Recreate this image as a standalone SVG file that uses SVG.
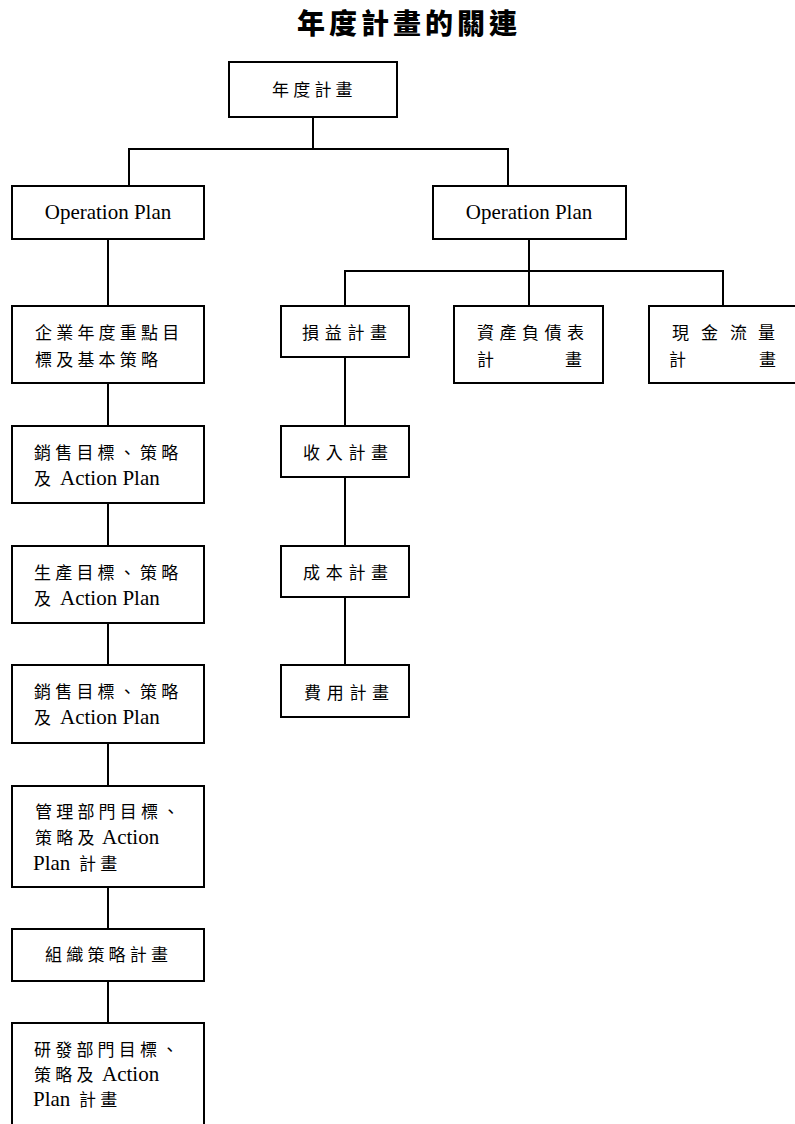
<svg xmlns="http://www.w3.org/2000/svg" width="795" height="1124" viewBox="0 0 795 1124">
<style>
.box{fill:#fff;stroke:#000;stroke-width:2}
.ln{fill:none;stroke:#000;stroke-width:2}
.cj{font-family:"Noto Sans CJK TC","Noto Sans CJK SC",sans-serif;font-size:17px;letter-spacing:4.2px;fill:#000}
.lat{font-family:"Liberation Serif","Noto Sans CJK TC",serif;font-size:21px;letter-spacing:0;fill:#000}
.title{font-family:"Noto Sans CJK TC",sans-serif;font-size:28px;font-weight:900;letter-spacing:4px;fill:#000}
</style>
<rect width="795" height="1124" fill="#fff"/>
<text class="title" x="297" y="34">年度計畫的關連</text>

<g id="connectors">
<path class="ln" d="M313,117V149M129,186V149H508V186"/>
<path class="ln" d="M108,239V306M108,383V426M108,503V546M108,623V665M108,743V786M108,887V929M108,981V1023"/>
<path class="ln" d="M529,239V306M345,306V271H723V306"/>
<path class="ln" d="M345,357V426M345,477V546M345,597V665"/>
</g>

<g id="n-root"><rect class="box" x="229" y="62" width="168" height="55"/><text class="cj" x="272" y="96">年度計畫</text></g>
<g id="n-op-left"><rect class="box" x="12" y="186" width="192" height="53"/><text class="lat" x="108" y="219" text-anchor="middle">Operation Plan</text></g>
<g id="n-op-right"><rect class="box" x="433" y="186" width="193" height="53"/><text class="lat" x="529" y="219" text-anchor="middle">Operation Plan</text></g>

<g id="n-goal"><rect class="box" x="12" y="306" width="192" height="77"/>
<text class="cj" x="35" y="339">企業年度重點目</text><text class="cj" x="35" y="366">標及基本策略</text></g>
<g id="n-sales1"><rect class="box" x="12" y="426" width="192" height="77"/>
<text class="cj" x="34" y="459">銷售目標、策略</text><text x="34" y="485"><tspan class="cj">及</tspan><tspan class="lat" x="60">Action Plan</tspan></text></g>
<g id="n-prod"><rect class="box" x="12" y="546" width="192" height="77"/>
<text class="cj" x="34" y="579">生產目標、策略</text><text x="34" y="605"><tspan class="cj">及</tspan><tspan class="lat" x="60">Action Plan</tspan></text></g>
<g id="n-sales2"><rect class="box" x="12" y="665" width="192" height="78"/>
<text class="cj" x="34" y="698">銷售目標、策略</text><text x="34" y="724"><tspan class="cj">及</tspan><tspan class="lat" x="60">Action Plan</tspan></text></g>
<g id="n-mgmt"><rect class="box" x="12" y="786" width="192" height="101"/>
<text class="cj" x="35" y="818">管理部門目標、</text>
<text x="35" y="844"><tspan class="cj">策略及</tspan><tspan class="lat" x="102">Action</tspan></text>
<text x="33" y="870"><tspan class="lat">Plan</tspan><tspan class="cj" x="79">計畫</tspan></text></g>
<g id="n-org"><rect class="box" x="12" y="929" width="192" height="52"/><text class="cj" x="45" y="961">組織策略計畫</text></g>
<g id="n-rd"><rect class="box" x="12" y="1023" width="192" height="104"/>
<text class="cj" x="34" y="1056">研發部門目標、</text>
<text x="34" y="1081"><tspan class="cj">策略及</tspan><tspan class="lat" x="102">Action</tspan></text>
<text x="33" y="1106"><tspan class="lat">Plan</tspan><tspan class="cj" x="79">計畫</tspan></text></g>

<g id="n-pl"><rect class="box" x="281" y="306" width="128" height="51"/><text class="cj" x="302" y="339" style="letter-spacing:5.7px">損益計畫</text></g>
<g id="n-rev"><rect class="box" x="281" y="426" width="128" height="51"/><text class="cj" x="303" y="459" style="letter-spacing:5.7px">收入計畫</text></g>
<g id="n-cost"><rect class="box" x="281" y="546" width="128" height="51"/><text class="cj" x="303" y="579" style="letter-spacing:5.7px">成本計畫</text></g>
<g id="n-exp"><rect class="box" x="281" y="665" width="128" height="52"/><text class="cj" x="304" y="699" style="letter-spacing:5.7px">費用計畫</text></g>

<g id="n-bs"><rect class="box" x="454" y="306" width="149" height="77"/>
<text class="cj" x="477" y="339" style="letter-spacing:5.5px">資產負債表</text>
<text class="cj" y="366"><tspan x="477">計</tspan><tspan x="565">畫</tspan></text></g>
<g id="n-cf"><rect class="box" x="649" y="306" width="148" height="77"/>
<text class="cj" y="339"><tspan x="672">現</tspan><tspan x="701">金</tspan><tspan x="730">流</tspan><tspan x="758">量</tspan></text>
<text class="cj" y="366"><tspan x="669">計</tspan><tspan x="759">畫</tspan></text></g>
</svg>
